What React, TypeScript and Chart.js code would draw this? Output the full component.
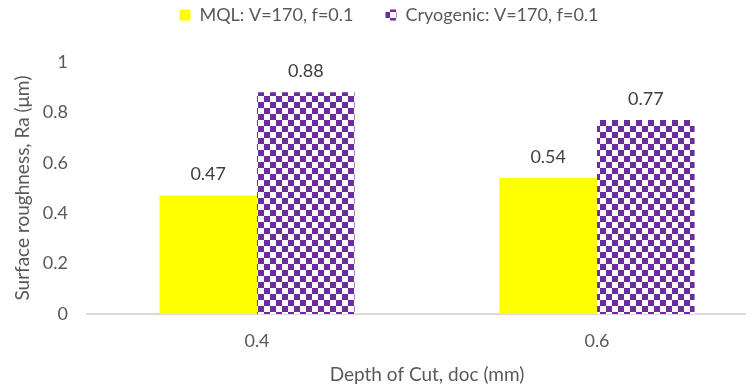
import React, { useEffect, useRef } from "react";
import { Chart, registerables } from "chart.js";

Chart.register(...registerables);

const categories = ["0.4", "0.6"];
const mqlValues = [0.47, 0.54];
const cryoValues = [0.88, 0.77];
const seriesNames = ["MQL: V=170, f=0.1", "Cryogenic: V=170, f=0.1"];
const yTitle = "Surface roughness, Ra (\u03bcm)";
const xTitle = "Depth of Cut, doc (mm)";

const FONT = "Lato, 'Noto Sans', sans-serif";
const TEXT = "#595959";
const FS_TICK = 18;
const FS_TITLE = 19;
const FS_LEGEND = 18;

function makeChecker(): CanvasPattern | string {
  const c = document.createElement("canvas");
  const s = 6;
  c.width = s * 2;
  c.height = s * 2;
  const ctx = c.getContext("2d");
  if (!ctx) return "#7030A0";
  ctx.fillStyle = "#ffffff";
  ctx.fillRect(0, 0, s * 2, s * 2);
  ctx.fillStyle = "#6A2C9E";
  ctx.fillRect(0, 0, s, s);
  ctx.fillRect(s, s, s, s);
  const p = ctx.createPattern(c, "repeat");
  return p || "#7030A0";
}

const valueLabels = {
  id: "valueLabels",
  afterDatasetsDraw(chart: any) {
    const ctx = chart.ctx;
    ctx.save();
    ctx.font = `${FS_TICK}px ${FONT}`;
    ctx.fillStyle = "#404040";
    ctx.textAlign = "center";
    ctx.textBaseline = "middle";
    chart.data.datasets.forEach((ds: any, i: number) => {
      const meta = chart.getDatasetMeta(i);
      meta.data.forEach((el: any, j: number) => {
        ctx.fillText(String(ds.data[j]), el.x, el.y - 21);
      });
    });
    ctx.restore();
  },
};

const legendHeight = {
  id: "legendHeight",
  beforeInit(chart: any) {
    const legend = chart.legend;
    if (!legend) return;
    const orig = legend.fit;
    legend.fit = function () {
      orig.call(this);
      this.height = 88;
    };
  },
};

export default function App() {
  const ref = useRef<HTMLCanvasElement | null>(null);
  useEffect(() => {
    if (!ref.current) return;
    const pattern = makeChecker();
    const chart = new Chart(ref.current, {
      type: "bar",
      data: {
        labels: categories,
        datasets: [
          {
            label: seriesNames[0],
            data: mqlValues,
            backgroundColor: "#FFFF00",
            categoryPercentage: 0.574,
            barPercentage: 1,
          },
          {
            label: seriesNames[1],
            data: cryoValues,
            backgroundColor: pattern as any,
            categoryPercentage: 0.574,
            barPercentage: 1,
          },
        ],
      },
      options: {
        responsive: false,
        animation: false,
        layout: { padding: { top: -26, right: 8, left: 11, bottom: 2 } },
        plugins: {
          legend: {
            position: "top",
            labels: {
              boxWidth: 11,
              boxHeight: 11,
              color: TEXT,
              font: { family: FONT, size: FS_LEGEND },
              padding: 32,
            },
          },
          tooltip: { enabled: false },
        },
        scales: {
          x: {
            grid: { display: false, drawTicks: false },
            border: { display: true, color: "#D9D9D9", width: 2 },
            ticks: { color: TEXT, font: { family: FONT, size: FS_TICK }, padding: 16 },
            title: {
              display: true,
              text: xTitle,
              color: TEXT,
              font: { family: FONT, size: FS_TITLE },
              padding: { top: 0, bottom: 0 },
            },
            afterFit: (scale: any) => {
              scale.height = 72;
            },
          },
          y: {
            min: 0,
            max: 1,
            grid: { display: false, drawTicks: false },
            border: { display: false },
            ticks: {
              stepSize: 0.2,
              color: TEXT,
              font: { family: FONT, size: FS_TICK },
              padding: 19,
              callback: (v: any) => Number(v).toFixed(1).replace(/\.0$/, ""),
            },
            title: {
              display: true,
              text: yTitle,
              color: TEXT,
              font: { family: FONT, size: FS_TITLE },
              padding: { top: 0, bottom: 0 },
            },
            afterFit: (scale: any) => {
              scale.width = 76;
            },
          },
        },
      },
      plugins: [valueLabels, legendHeight],
    });
    return () => chart.destroy();
  }, []);
  return (
    <div
      style={{
        position: "fixed",
        left: 0,
        top: 0,
        width: 746,
        height: 388,
        overflow: "hidden",
        background: "#fff",
      }}
    >
      <canvas ref={ref} width={775} height={388} style={{ display: "block" }} />
    </div>
  );
}
